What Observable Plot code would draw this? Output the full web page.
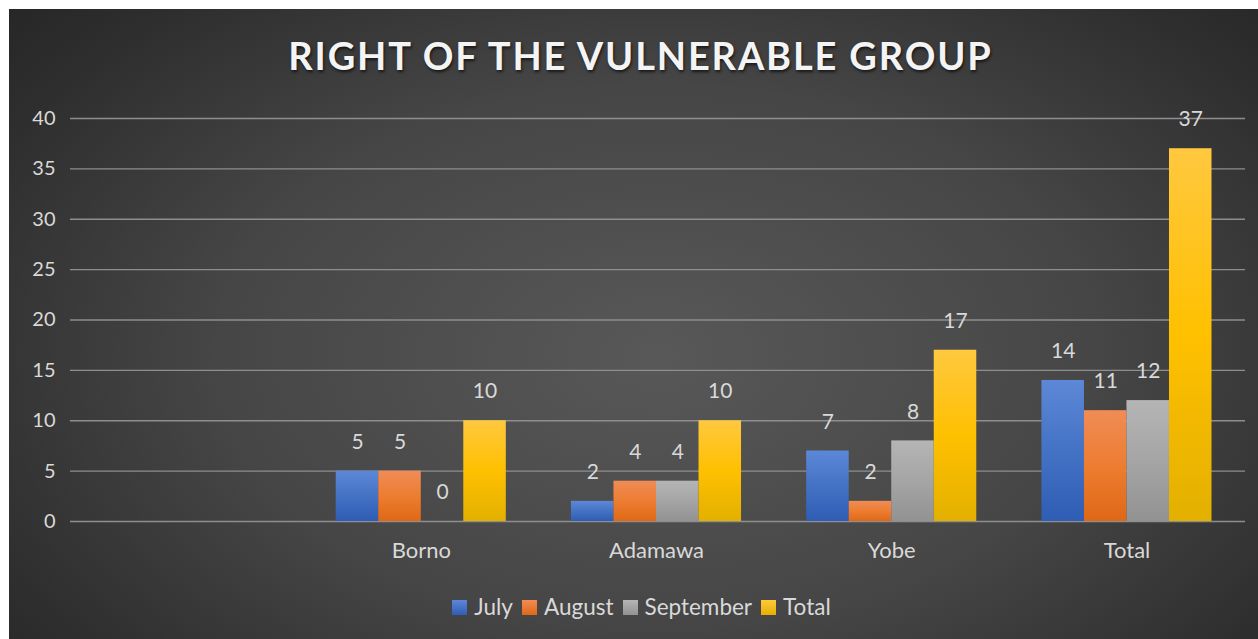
<!DOCTYPE html>
<html>
<head>
<meta charset="utf-8">
<script src="https://cdn.jsdelivr.net/npm/d3@7"></script>
<script src="https://cdn.jsdelivr.net/npm/@observablehq/plot@0.6"></script>
<style>
html, body { margin: 0; padding: 0; background: #ffffff; width: 1258px; height: 639px; overflow: hidden; font-family: Lato, "Open Sans", sans-serif; }
#panel { position: absolute; left: 9px; top: 9px; width: 1249px; height: 630px; overflow: hidden;
  background: radial-gradient(ellipse 70% 85% at 52% 55%, #585858 0%, #464646 50%, #2e2e2e 85%, #262626 100%); }
#title { position: absolute; left: 7px; width: 100%; top: 26px; text-align: center; color: #f4f4f4; font-weight: 700;
  font-size: 38px; line-height: 40px; letter-spacing: 1.85px; text-shadow: 1px 2px 3px rgba(0,0,0,0.65); white-space: nowrap; }
.layer { position: absolute; left: 0; top: 0; }
#legend { position: absolute; left: 8px; width: 100%; top: 587px; display: flex; justify-content: center; align-items: center;
  color: #d9d9d9; font-size: 22.5px; line-height: 22px; }
#legend .item { display: flex; align-items: center; margin: 0 4.5px; }
#legend .sw { width: 15px; height: 15px; margin-right: 7px; }
</style>
</head>
<body>
<div id="panel">
  <div id="title">RIGHT OF THE VULNERABLE GROUP</div>
  <div id="grid" class="layer"></div>
  <div id="bars" class="layer"></div>
  <div id="legend"></div>
</div>
<script>
// ---- data ----
const categories = ["", "Borno", "Adamawa", "Yobe", "Total"];
const regions = ["Borno", "Adamawa", "Yobe", "Total"];
const series = ["July", "August", "September", "Total"];
const july = [5, 2, 7, 14];
const august = [5, 4, 2, 11];
const september = [0, 4, 8, 12];
const total = [10, 10, 17, 37];
const yTicks = [0, 5, 10, 15, 20, 25, 30, 35, 40];

const seriesValues = [july, august, september, total];
const rows = [];
regions.forEach((r, i) => series.forEach((s, j) => rows.push({region: r, series: s, value: seriesValues[j][i]})));

// colours (top, middle, bottom) for bar gradients
const gradStops = [
  ["#5d88d8", "#4472c4", "#2f5db5"],
  ["#f08c56", "#ed7d31", "#df6816"],
  ["#b5b5b5", "#a5a5a5", "#929292"],
  ["#ffc83f", "#ffc000", "#e3b000"]
];
const gradIds = series.map((s, i) => "grad" + i);

const W = 1249, H = 630;
const mTop = 109, mBottom = 118;

// ---- gridlines + y axis layer ----
const grid = Plot.plot({
  width: W, height: H,
  marginTop: mTop, marginBottom: mBottom, marginLeft: 61, marginRight: 13,
  style: {background: "transparent", color: "#d9d9d9", fontFamily: "Lato, 'Open Sans', sans-serif"},
  x: {axis: null, domain: [0, 1]},
  y: {domain: [0, 40], axis: null},
  marks: [
    Plot.ruleY(yTicks, {stroke: "#8e8e8e", strokeWidth: 1.4}),
    Plot.axisY(yTicks, {tickSize: 0, tickPadding: 15, fontSize: 20, fill: "#d9d9d9", label: null})
  ]
});
document.getElementById("grid").appendChild(grid);

// ---- bars layer ----
const bars = Plot.plot({
  width: W, height: H,
  marginTop: mTop, marginBottom: mBottom, marginLeft: 91.5, marginRight: 46.5,
  style: {background: "transparent", color: "#d9d9d9", fontFamily: "Lato, 'Open Sans', sans-serif", overflow: "visible"},
  fx: {domain: categories, paddingInner: 0.277, paddingOuter: 0, round: false, label: null},
  x: {domain: series, padding: 0, round: false, axis: null},
  y: {domain: [0, 40], axis: null},
  color: {domain: series, range: gradIds.map(id => `url(#${id})`)},
  marks: [
    Plot.axisFx({anchor: "bottom", tickSize: 0, tickPadding: 21, fontSize: 22, fill: "#d9d9d9", label: null}),
    Plot.barY(rows, {fx: "region", x: "series", y: "value", fill: "series"}),
    Plot.text(rows, {fx: "region", x: "series", y: "value", text: d => String(d.value), dy: -29, fontSize: 21, fill: "#d9d9d9"})
  ]
});
// gradient definitions
const svgNS = "http://www.w3.org/2000/svg";
const svgEl = bars.tagName.toLowerCase() === "svg" ? bars : bars.querySelector("svg");
const defs = document.createElementNS(svgNS, "defs");
gradIds.forEach((id, i) => {
  const g = document.createElementNS(svgNS, "linearGradient");
  g.setAttribute("id", id);
  g.setAttribute("x1", "0"); g.setAttribute("y1", "0"); g.setAttribute("x2", "0"); g.setAttribute("y2", "1");
  [[0, 0], [0.5, 1], [1, 2]].forEach(([off, k]) => {
    const st = document.createElementNS(svgNS, "stop");
    st.setAttribute("offset", off);
    st.setAttribute("stop-color", gradStops[i][k]);
    g.appendChild(st);
  });
  defs.appendChild(g);
});
svgEl.insertBefore(defs, svgEl.firstChild);
document.getElementById("bars").appendChild(bars);

// ---- legend ----
const legend = document.getElementById("legend");
series.forEach((s, i) => {
  const item = document.createElement("div");
  item.className = "item";
  const sw = document.createElement("div");
  sw.className = "sw";
  sw.style.background = `linear-gradient(${gradStops[i][0]}, ${gradStops[i][2]})`;
  const t = document.createElement("span");
  t.textContent = s;
  item.appendChild(sw); item.appendChild(t);
  legend.appendChild(item);
});
</script>
</body>
</html>
